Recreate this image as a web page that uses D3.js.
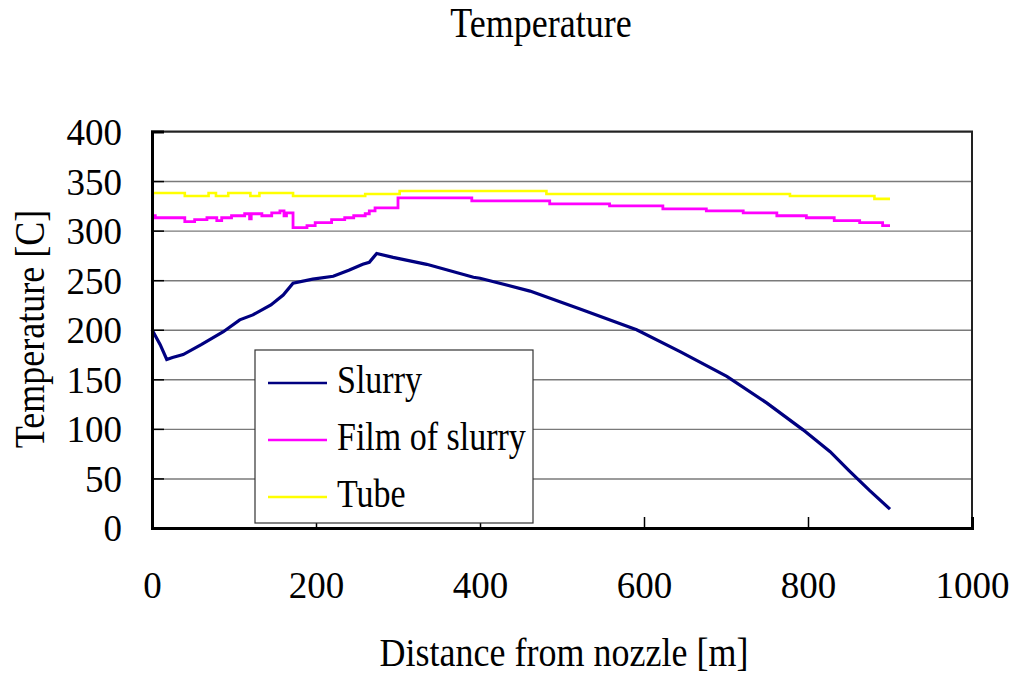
<!DOCTYPE html>
<html>
<head>
<meta charset="utf-8">
<script src="https://cdn.jsdelivr.net/npm/d3@7"></script>
<style>
  html, body { margin: 0; padding: 0; background: #fff; }
  svg { display: block; font-family: "Liberation Serif", "Times New Roman", serif; }
  svg text { font-family: "Liberation Serif", "Times New Roman", serif; }
</style>
</head>
<body>
<svg id="chart" width="1016" height="675"></svg>
<script>
// Series data: [distance m, temperature C]
const slurry = [
  [0, 200], [10, 185], [18, 170], [25, 172], [38, 175], [60, 185], [87, 198],
  [107, 210], [123, 215], [145, 225], [160, 235], [172, 247], [196, 251],
  [221, 254], [240, 260], [257, 266], [265, 268], [274, 277], [294, 273],
  [335, 266], [392, 253], [400, 252], [461, 239], [522, 221], [591, 200],
  [644, 178], [701, 153], [750, 126], [794, 99], [827, 77], [850, 58],
  [875, 38], [900, 19]
];
const film = [
  [0, 315], [4, 313], [40, 309], [52, 311], [67, 313], [79, 310], [85, 313],
  [97, 315], [113, 317], [119, 312], [121, 317], [134, 315], [146, 318],
  [156, 320], [161, 315], [164, 318], [172, 303], [189, 305], [199, 308],
  [219, 311], [235, 313], [246, 315], [260, 317], [265, 320], [272, 323],
  [300, 333], [390, 330], [485, 327], [558, 325], [623, 322], [676, 320],
  [721, 318], [762, 315], [798, 313], [832, 310], [863, 308], [891, 305],
  [900, 305]
];
const tube = [
  [0, 334], [1, 338], [40, 335], [69, 338], [78, 335], [93, 338], [120, 335],
  [131, 338], [172, 335], [260, 337], [302, 340], [481, 337], [778, 335],
  [881, 332], [900, 332]
];

const seriesNames = ["Slurry", "Film of slurry", "Tube"];
const seriesColors = ["#000080", "#ff00ff", "#ffff00"];
const xTicks = [0, 200, 400, 600, 800, 1000];
const yTicks = [0, 50, 100, 150, 200, 250, 300, 350, 400];

const svg = d3.select("#chart");
const margin = { top: 131.5, right: 44, bottom: 147, left: 152 };
const width = 1016 - margin.left - margin.right;
const height = 675 - margin.top - margin.bottom;

const x = d3.scaleLinear().domain([0, 1000]).range([0, width]);
const y = d3.scaleLinear().domain([0, 400]).range([height, 0]);

const g = svg.append("g")
  .attr("transform", `translate(${margin.left},${margin.top})`);

// Grid lines
g.append("g")
  .call(d3.axisLeft(y).tickValues(yTicks).tickSize(-width).tickFormat(""))
  .call(s => s.select(".domain").remove())
  .selectAll("line")
    .attr("stroke", "#7a7a7a")
    .attr("stroke-width", 1.4);

// Plot frame (top and right)
g.append("rect")
  .attr("x", 0).attr("y", 0)
  .attr("width", width).attr("height", height)
  .attr("fill", "none")
  .attr("stroke", "#222")
  .attr("stroke-width", 2);

// Lines
const datasets = [slurry, film, tube];
const curves = [d3.curveLinear, d3.curveStepAfter, d3.curveStepAfter];
const widths = [3.2, 2.8, 2.6];
[2, 1, 0].forEach(i => {
  g.append("path")
    .datum(datasets[i])
    .attr("fill", "none")
    .attr("stroke", seriesColors[i])
    .attr("stroke-width", widths[i])
    .attr("d", d3.line().x(d => x(d[0])).y(d => y(d[1])).curve(curves[i]));
});

// Y axis
const yAxis = g.append("g")
  .call(d3.axisLeft(y).tickValues(yTicks).tickSize(-12).tickPadding(30).tickFormat(d3.format("d")));
yAxis.attr("font-family", null);
yAxis.select(".domain").attr("stroke", "#000").attr("stroke-width", 3);
yAxis.selectAll(".tick line").attr("stroke", "#000").attr("stroke-width", 1.5);
yAxis.selectAll("text")
  .attr("font-size", "37px")
  .attr("fill", "#000")
  .attr("dy", "0.35em");

// X axis
const xAxis = g.append("g")
  .attr("transform", `translate(0,${height})`)
  .call(d3.axisBottom(x).tickValues(xTicks).tickSize(-11).tickFormat(d3.format("d")));
xAxis.attr("font-family", null);
xAxis.select(".domain").attr("stroke", "#000").attr("stroke-width", 3);
xAxis.selectAll(".tick line").attr("stroke", "#000").attr("stroke-width", 1.5);
xAxis.selectAll("text")
  .attr("font-size", "37px")
  .attr("fill", "#000")
  .attr("y", 70)
  .attr("dy", null);

// Legend
const legend = svg.append("g").attr("transform", "translate(255,350)");
legend.append("rect")
  .attr("width", 278).attr("height", 173)
  .attr("fill", "#fff")
  .attr("stroke", "#333")
  .attr("stroke-width", 1.2);
seriesNames.forEach((name, i) => {
  const row = legend.append("g").attr("transform", `translate(0,${33 + i * 57})`);
  row.append("line")
    .attr("x1", 13).attr("x2", 72)
    .attr("y1", 0).attr("y2", 0)
    .attr("stroke", seriesColors[i])
    .attr("stroke-width", 2.5);
  row.append("text")
    .attr("transform", "translate(82,10) scale(1,1.15)")
    .attr("font-size", "34px")
    .attr("fill", "#000")
    .text(name);
});

// Titles
svg.append("text")
  .attr("transform", "translate(541,37) scale(1,1.15)")
  .attr("text-anchor", "middle")
  .attr("font-size", "36px")
  .text("Temperature");

svg.append("text")
  .attr("transform", "translate(564,666) scale(1,1.12)")
  .attr("text-anchor", "middle")
  .attr("font-size", "36px")
  .text("Distance from nozzle [m]");

svg.append("text")
  .attr("transform", "translate(44,329) rotate(-90) scale(1,1.15)")
  .attr("text-anchor", "middle")
  .attr("font-size", "36px")
  .text("Temperature [C]");
</script>
</body>
</html>
